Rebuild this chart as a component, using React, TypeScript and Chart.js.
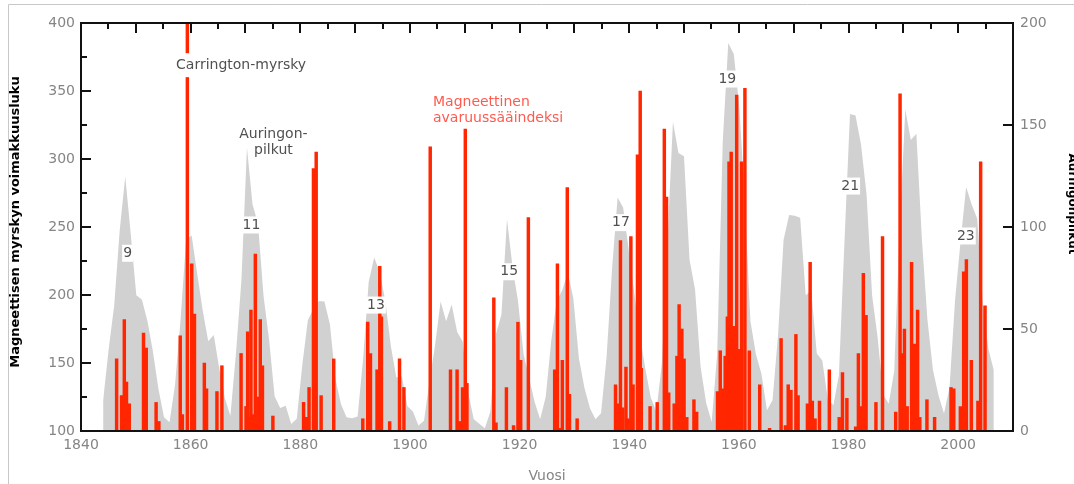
import { useEffect, useRef } from 'react';
import { Chart, registerables } from 'chart.js';

Chart.register(...registerables);

// Magnetic storm intensity (left axis), one bar per storm
const stormYears = [
  1846.5, 1847.4, 1847.9, 1848.3, 1848.8, 1851.4, 1851.9, 1853.7, 1854.2,
  1858.1, 1858.5, 1859.4, 1860.2, 1860.7, 1862.5, 1862.9, 1864.8, 1865.7,
  1869.2, 1870.1, 1870.4, 1870.7, 1871.0, 1871.4, 1871.8, 1872.2, 1872.7, 1873.1, 1875.0,
  1880.6, 1881.1, 1881.6, 1882.4, 1882.9, 1883.8, 1886.1,
  1891.4, 1892.3, 1892.8, 1894.0, 1894.5, 1894.8, 1896.3, 1898.1, 1898.9,
  1903.7, 1907.4, 1908.6, 1909.1, 1909.6, 1910.1, 1910.4,
  1915.3, 1915.7, 1917.6, 1918.9, 1919.7, 1920.2, 1921.6,
  1926.4, 1926.9, 1927.3, 1927.8, 1928.7, 1929.1, 1930.5,
  1937.5, 1937.9, 1938.4, 1938.8, 1939.4, 1939.8, 1940.3, 1940.7, 1941.5, 1942.0, 1942.2,
  1943.8, 1945.1, 1946.4, 1946.8, 1947.2, 1948.2, 1948.7, 1949.1, 1949.6, 1950.0, 1950.5,
  1951.8, 1952.3,
  1956.1, 1956.6, 1957.1, 1957.5, 1957.9, 1958.2, 1958.6, 1959.0, 1959.3, 1959.6, 1960.0,
  1960.5, 1961.1, 1961.9, 1963.8, 1965.6,
  1967.7, 1968.5, 1969.0, 1969.5, 1970.4, 1970.8, 1972.5, 1973.0, 1973.4, 1973.9, 1974.7,
  1976.5, 1978.3, 1978.9, 1979.7, 1981.3, 1981.8, 1982.2, 1982.7, 1983.2, 1985.0, 1986.2,
  1988.6, 1989.4, 1989.7, 1990.2, 1990.7, 1991.5, 1992.0, 1992.6, 1993.0, 1994.3, 1995.7,
  1998.7, 1999.2, 2000.4, 2001.0, 2001.5, 2002.4, 2003.6, 2004.1, 2004.9,
];
const stormIndex = [
  153, 126, 182, 136, 120, 172, 161, 121, 107,
  170, 112, 400, 223, 186, 150, 131, 129, 148,
  157, 118, 173, 110, 189, 112, 230, 125, 182, 148, 111,
  121, 110, 132, 293, 305, 126, 153,
  109, 180, 157, 145, 221, 184, 107, 153, 132,
  309, 145, 145, 107, 132, 322, 135,
  198, 106, 132, 104, 180, 152, 257,
  145, 223, 102, 152, 279, 127, 109,
  134, 120, 240, 117, 147, 109, 243, 134, 303, 350, 146,
  118, 121, 322, 272, 128, 120, 155, 193, 175, 153, 110,
  123, 114,
  129, 159, 131, 155, 184, 298, 305, 177, 160, 347, 160,
  298, 352, 159, 134, 102,
  168, 104, 134, 130, 171, 126, 120, 224, 122, 109, 122,
  145, 110, 143, 124, 103, 157, 118, 216, 185, 121, 243,
  114, 348, 157, 175, 118, 224, 164, 189, 110, 123, 110,
  132, 131, 118, 217, 226, 152, 122, 298, 192,
];

// Yearly sunspot numbers (right axis)
const sunspotYears = [
  1844, 1845, 1846, 1847, 1848, 1849, 1850, 1851, 1852, 1853,
  1854, 1855, 1856, 1857, 1858, 1859, 1860, 1861, 1862, 1863,
  1864, 1865, 1866, 1867, 1868, 1869, 1870, 1871, 1872, 1873,
  1874, 1875, 1876, 1877, 1878, 1879, 1880, 1881, 1882, 1883,
  1884, 1885, 1886, 1887, 1888, 1889, 1890, 1891, 1892, 1893,
  1894, 1895, 1896, 1897, 1898, 1899, 1900, 1901, 1902, 1903,
  1904, 1905, 1906, 1907, 1908, 1909, 1910, 1911, 1912, 1913,
  1914, 1915, 1916, 1917, 1918, 1919, 1920, 1921, 1922, 1923,
  1924, 1925, 1926, 1927, 1928, 1929, 1930, 1931, 1932, 1933,
  1934, 1935, 1936, 1937, 1938, 1939, 1940, 1941, 1942, 1943,
  1944, 1945, 1946, 1947, 1948, 1949, 1950, 1951, 1952, 1953,
  1954, 1955, 1956, 1957, 1958, 1959, 1960, 1961, 1962, 1963,
  1964, 1965, 1966, 1967, 1968, 1969, 1970, 1971, 1972, 1973,
  1974, 1975, 1976, 1977, 1978, 1979, 1980, 1981, 1982, 1983,
  1984, 1985, 1986, 1987, 1988, 1989, 1990, 1991, 1992, 1993,
  1994, 1995, 1996, 1997, 1998, 1999, 2000, 2001, 2002, 2003,
  2004, 2005,
];
const sunspotNumbers = [
  15.0, 40.1, 61.5, 98.5, 124.7, 96.3, 66.6, 64.5, 54.1, 39.0,
  20.6, 6.7, 4.3, 22.7, 54.8, 93.8, 95.8, 77.2, 59.1, 44.0,
  47.0, 30.5, 16.3, 7.3, 37.6, 74.0, 139.0, 111.2, 101.6, 66.2,
  44.7, 17.0, 11.3, 12.4, 3.4, 6.0, 32.3, 54.3, 59.7, 63.7,
  63.5, 52.2, 25.4, 13.1, 6.8, 6.3, 7.1, 35.6, 73.0, 85.1,
  78.0, 64.0, 41.8, 26.2, 26.7, 12.1, 9.5, 2.7, 5.0, 24.4,
  42.0, 63.5, 53.8, 62.0, 48.5, 43.9, 18.6, 5.7, 3.6, 1.4,
  9.6, 47.4, 57.1, 103.9, 80.6, 63.6, 37.6, 26.1, 14.2, 5.8,
  16.7, 44.3, 63.9, 69.0, 77.8, 64.9, 35.7, 21.2, 11.1, 5.7,
  8.7, 36.1, 79.7, 114.4, 109.6, 88.8, 67.8, 47.5, 30.6, 16.3,
  9.6, 33.2, 92.6, 151.6, 136.3, 134.7, 83.9, 69.4, 31.5, 13.9,
  4.4, 38.0, 141.7, 190.2, 184.8, 159.0, 112.3, 53.9, 37.6, 27.9,
  10.2, 15.1, 47.0, 93.8, 105.9, 105.5, 104.5, 66.6, 68.9, 38.0,
  34.5, 15.5, 12.6, 27.5, 92.5, 155.4, 154.6, 140.4, 115.9, 66.6,
  45.9, 17.9, 13.4, 29.4, 100.2, 157.6, 142.6, 145.7, 94.3, 54.6,
  29.9, 17.5, 8.6, 21.5, 64.3, 93.3, 119.6, 111.0, 104.0, 63.7,
  40.4, 29.8,
];

// Solar cycle number labels
const cycleLabels = ['9', '11', '13', '15', '17', '19', '21', '23'];
const cycleLabelYears = [1848.5, 1871.1, 1893.8, 1918.1, 1938.5, 1957.9, 1980.3, 2001.4];
const cycleLabelLevels = [230.7, 251.5, 192.6, 217.1, 253.2, 358.8, 280.1, 243.4];

const FONT = '"DejaVu Sans"';
const TICK_GRAY = '#858585';
const TEXT_GRAY = '#505050';

const decorations = {
  id: 'decorations',
  afterDatasetsDraw(chart: any) {
    const { ctx, chartArea: a, scales } = chart;
    const x = scales.x;
    const y = scales.y;
    const y2 = scales.y2;
    ctx.save();
    ctx.font = `14px ${FONT}`;
    ctx.textAlign = 'center';
    ctx.textBaseline = 'middle';
    const boxed = (text: string, px: number, py: number, padX: number, h: number, color: string) => {
      const w = ctx.measureText(text).width;
      ctx.fillStyle = '#ffffff';
      ctx.fillRect(px - w / 2 - padX, py - h / 2, w + 2 * padX, h);
      ctx.fillStyle = color;
      ctx.fillText(text, px, py);
    };
    cycleLabels.forEach((t, i) => {
      boxed(t, x.getPixelForValue(cycleLabelYears[i]), y.getPixelForValue(cycleLabelLevels[i]), 1, 17, TEXT_GRAY);
    });
    boxed('Carrington-myrsky', x.getPixelForValue(1869.2), y.getPixelForValue(369), 2, 24, TEXT_GRAY);

    ctx.fillStyle = TEXT_GRAY;
    const ax = x.getPixelForValue(1875.1);
    const ay = y.getPixelForValue(312.5);
    ctx.fillText('Auringon-', ax, ay - 8);
    ctx.fillText('pilkut', ax, ay + 8);

    ctx.fillStyle = '#ff5a4e';
    ctx.textAlign = 'left';
    const mx = x.getPixelForValue(1904.2);
    const my = y.getPixelForValue(336);
    ctx.fillText('Magneettinen', mx, my - 8);
    ctx.fillText('avaruussääindeksi', mx, my + 8);

    // plot frame
    ctx.strokeStyle = '#111111';
    ctx.lineWidth = 2;
    ctx.strokeRect(a.left, a.top, a.right - a.left, a.bottom - a.top);

    // inward ticks
    ctx.lineWidth = 2;
    ctx.beginPath();
    for (let v = 125; v < 400; v += 25) {
      const py = Math.round(y.getPixelForValue(v));
      const len = v % 50 === 0 ? 10 : 6;
      ctx.moveTo(a.left, py);
      ctx.lineTo(a.left + len, py);
    }
    for (let yr = 1845; yr < 2010; yr += 5) {
      const px = Math.round(x.getPixelForValue(yr));
      const len = yr % 10 === 0 ? 10 : 6;
      ctx.moveTo(px, a.top);
      ctx.lineTo(px, a.top + len);
    }
    for (let v = 50; v < 200; v += 50) {
      const py = Math.round(y2.getPixelForValue(v));
      ctx.moveTo(a.right, py);
      ctx.lineTo(a.right - 10, py);
    }
    ctx.stroke();
    ctx.restore();
  },
  afterDraw(chart: any) {
    const { ctx, chartArea: a } = chart;
    ctx.save();
    // outer light frame
    ctx.strokeStyle = '#c8c8c8';
    ctx.lineWidth = 1;
    ctx.beginPath();
    ctx.moveTo(8.5, 484);
    ctx.lineTo(8.5, 4.5);
    ctx.lineTo(1074, 4.5);
    ctx.stroke();

    // axis titles
    ctx.textAlign = 'center';
    ctx.textBaseline = 'middle';
    ctx.fillStyle = '#000000';
    ctx.font = `bold 13px ${FONT}`;
    ctx.translate(16, 222);
    ctx.rotate(-Math.PI / 2);
    ctx.fillText('Magneettisen myrskyn voimakkuusluku', 0, 0);
    ctx.setTransform(1, 0, 0, 1, 0, 0);
    ctx.font = `bold 12px ${FONT}`;
    ctx.translate(1072, 204);
    ctx.rotate(Math.PI / 2);
    ctx.fillText('Auringonpilkut', 0, 0);
    ctx.setTransform(1, 0, 0, 1, 0, 0);

    ctx.font = `14px ${FONT}`;
    ctx.fillStyle = TICK_GRAY;
    ctx.fillText('Vuosi', (a.left + a.right) / 2, 476);
    ctx.restore();
  },
};

export default function App() {
  const canvasRef = useRef<HTMLCanvasElement | null>(null);

  useEffect(() => {
    if (!canvasRef.current) return;
    Chart.defaults.font.family = FONT;
    const chart = new Chart(canvasRef.current, {
      type: 'bar',
      data: {
        datasets: [
          {
            type: 'bar',
            label: 'Magneettinen avaruussääindeksi',
            data: stormYears.map((yr, i) => ({ x: yr, y: stormIndex[i] })),
            xAxisID: 'x',
            yAxisID: 'y',
            backgroundColor: '#ff2600',
            borderWidth: 0,
            barThickness: 2.8,
            grouped: false,
            order: 0,
          } as any,
          {
            type: 'line',
            label: 'Auringonpilkut',
            data: sunspotYears.map((yr, i) => ({ x: yr, y: sunspotNumbers[i] })),
            xAxisID: 'x2',
            yAxisID: 'y2',
            fill: 'origin',
            backgroundColor: '#d1d1d1',
            borderColor: 'rgba(0,0,0,0)',
            borderWidth: 0,
            pointRadius: 0,
            tension: 0,
            order: 1,
          } as any,
        ],
      },
      options: {
        animation: false,
        responsive: false,
        devicePixelRatio: 1,
        layout: { padding: { top: 23, left: 0, right: 0, bottom: 0 } },
        plugins: { legend: { display: false }, tooltip: { enabled: false }, title: { display: false } },
        scales: {
          x: {
            type: 'linear',
            position: 'bottom',
            min: 1840,
            max: 2010,
            offset: false,
            grid: { display: false, drawTicks: false },
            border: { display: false },
            ticks: {
              stepSize: 20,
              includeBounds: false,
              autoSkip: false,
              maxRotation: 0,
              padding: 6,
              color: TICK_GRAY,
              font: { size: 14, family: FONT },
              callback: (v: any) => (Number(v) % 20 === 0 ? String(v) : ''),
            },
            afterFit: (s: any) => { s.height = 53; },
          },
          x2: {
            type: 'linear',
            display: false,
            min: 1840,
            max: 2008.47,
            offset: false,
          },
          y: {
            type: 'linear',
            position: 'left',
            min: 100,
            max: 400,
            grid: { display: false, drawTicks: false },
            border: { display: false },
            ticks: {
              stepSize: 50,
              padding: 6,
              color: TICK_GRAY,
              font: { size: 14, family: FONT },
              callback: (v: any) => String(v),
            },
            afterFit: (s: any) => { s.width = 81; },
          },
          y2: {
            type: 'linear',
            position: 'right',
            min: 0,
            max: 200,
            grid: { display: false, drawTicks: false },
            border: { display: false },
            ticks: {
              stepSize: 50,
              padding: 7,
              color: TICK_GRAY,
              font: { size: 14, family: FONT },
              callback: (v: any) => String(v),
            },
            afterFit: (s: any) => { s.width = 61; },
          },
        },
      } as any,
      plugins: [decorations],
    });
    return () => chart.destroy();
  }, []);

  return (
    <div style={{ position: 'absolute', left: 0, top: 0, width: 1074, height: 484, background: '#ffffff' }}>
      <canvas ref={canvasRef} width={1074} height={484} style={{ display: 'block' }} />
    </div>
  );
}
